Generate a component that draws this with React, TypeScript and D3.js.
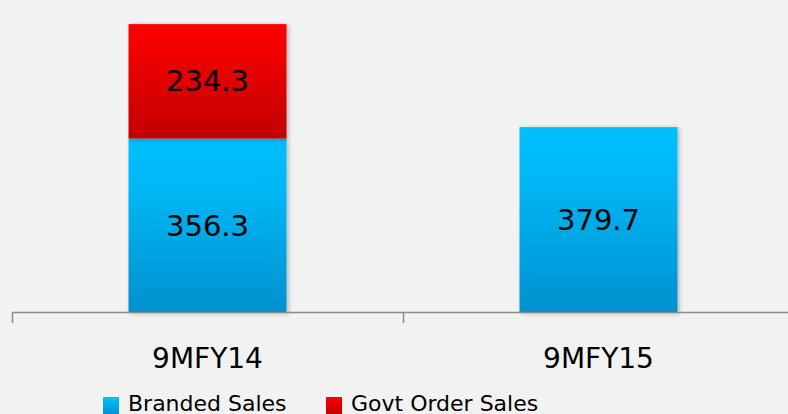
import React from 'react';
import * as d3 from 'd3';

const categories = ['9MFY14', '9MFY15'];
const brandedSales = [356.3, 379.7];
const govtOrderSales = [234.3, 0];
const seriesNames = ['Branded Sales', 'Govt Order Sales'];

const W = 788;
const H = 414;
const baseY = 312.5;
const font = 'DejaVu Sans, Verdana, sans-serif';

export default function App() {
  const x = d3.scaleBand<string>().domain(categories).range([12, 794]).padding(0);
  const y = d3.scaleLinear().domain([0, 640]).range([baseY, 0]);
  const barW = x.step() * 0.404;

  const rows = categories.map((c, i) => ({ cat: c, branded: brandedSales[i], govt: govtOrderSales[i] }));
  const stack = d3.stack<any>().keys(['branded', 'govt'])(rows);

  return (
    <svg width={W} height={H} style={{ position: 'fixed', left: 0, top: 0, background: '#f2f2f2' }}>
      <defs>
        <linearGradient id="gBlue" x1="0" y1="0" x2="0" y2="1">
          <stop offset="0" stopColor="#00c0ff" />
          <stop offset="0.3" stopColor="#00b6f4" />
          <stop offset="1" stopColor="#0090cf" />
        </linearGradient>
        <linearGradient id="gRed" x1="0" y1="0" x2="0" y2="1">
          <stop offset="0" stopColor="#ff0000" />
          <stop offset="1" stopColor="#c20000" />
        </linearGradient>
        <filter id="shadow" x="-10%" y="-10%" width="130%" height="130%">
          <feDropShadow dx="2" dy="1" stdDeviation="2" floodColor="#000" floodOpacity="0.25" />
        </filter>
      </defs>
      <rect x={0} y={0} width={W} height={H} fill="#f2f2f2" />

      {stack.map((layer, li) => (
        <g key={layer.key} filter="url(#shadow)">
          {layer.map((d, i) => {
            if (d[1] - d[0] <= 0) return null;
            const cx = (x(categories[i]) as number) + x.step() / 2;
            return (
              <rect key={i} x={cx - barW / 2} y={y(d[1])} width={barW} height={y(d[0]) - y(d[1])}
                fill={li === 0 ? 'url(#gBlue)' : 'url(#gRed)'} />
            );
          })}
        </g>
      ))}

      {stack.map((layer) => layer.map((d, i) => {
        const v = d[1] - d[0];
        if (v <= 0) return null;
        const cx = (x(categories[i]) as number) + x.step() / 2;
        return (
          <text key={layer.key + i} x={cx} y={(y(d[0]) + y(d[1])) / 2} textAnchor="middle" dominantBaseline="central"
            fontFamily={font} fontSize={29} fill="#000">{v.toFixed(1)}</text>
        );
      }))}

      <line x1={12} x2={W} y1={baseY} y2={baseY} stroke="#8c8c8c" strokeWidth={1.5} />
      {categories.map((c) => (
        <line key={c} x1={(x(c) as number) + 0.5} x2={(x(c) as number) + 0.5} y1={baseY} y2={323} stroke="#8c8c8c" strokeWidth={1.5} />
      ))}
      {categories.map((c) => (
        <text key={c} x={(x(c) as number) + x.step() / 2} y={368} textAnchor="middle" fontFamily={font} fontSize={28} fill="#000">{c}</text>
      ))}

      {seriesNames.map((s, i) => {
        const lx = [103, 326][i];
        return (
          <g key={s}>
            <rect x={lx} y={397} width={16} height={17} fill={i === 0 ? 'url(#gBlue)' : 'url(#gRed)'} />
            <text x={lx + 25} y={410.5} fontFamily={font} fontSize={22} fill="#000">{s}</text>
          </g>
        );
      })}
    </svg>
  );
}
